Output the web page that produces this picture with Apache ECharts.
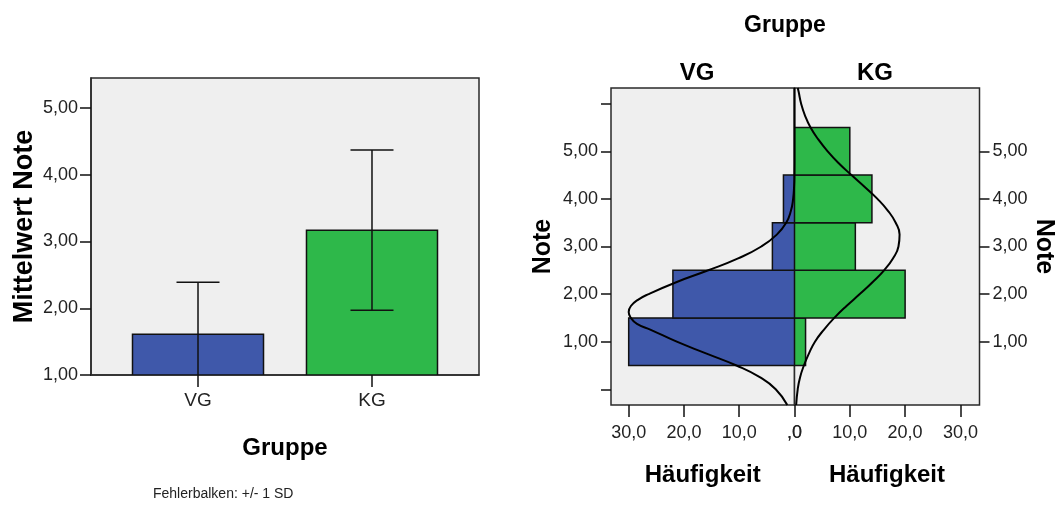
<!DOCTYPE html>
<html>
<head>
<meta charset="utf-8">
<script src="https://cdn.jsdelivr.net/npm/echarts@6/dist/echarts.min.js"></script>
<style>
  html, body { margin: 0; padding: 0; background: #ffffff; }
  #chart { width: 1060px; height: 505px; }
</style>
</head>
<body>
<div id="chart"></div>
<script>
// ---------- Data ----------
const groups = ['VG', 'KG'];
const meanNote = [1.61, 3.17];
const sdNote = [0.78, 1.20];
const meanTicks = [1, 2, 3, 4, 5];

const noteBins = [1, 2, 3, 4, 5];
const vgFreq = [30, 22, 4, 2, 0];
const kgFreq = [2, 20, 11, 14, 10];
const freqTicks = [0, 10, 20, 30];
const noteTicksLeft = [0, 1, 2, 3, 4, 5, 6];
const noteLabels = [1, 2, 3, 4, 5];

// Normal curves (note value, frequency)
const vgCurveNote = [-0.33, 0.0, 0.25, 0.5, 0.75, 1.0, 1.25, 1.375, 1.5, 1.625, 1.75, 1.875, 2.0, 2.25, 2.5, 2.75, 3.0, 3.25, 3.5, 3.75, 4.0, 4.25, 4.5, 5.0, 5.5, 6.0, 6.33];
const vgCurveFreq = [1.3, 3.4, 6.2, 10.5, 15.9, 21.3, 26.0, 28.5, 29.6, 30.0, 29.6, 28.4, 26.4, 21.4, 15.6, 10.2, 6.0, 3.2, 1.5, 0.65, 0.25, 0.08, 0.02, 0, 0, 0, 0];
const kgCurveNote = [-0.33, 0.0, 0.25, 0.5, 0.75, 1.0, 1.25, 1.5, 1.75, 2.0, 2.25, 2.5, 2.75, 3.0, 3.25, 3.5, 3.75, 4.0, 4.25, 4.5, 4.75, 5.0, 5.25, 5.5, 5.75, 6.0, 6.25, 6.33];
const kgCurveFreq = [0.3, 0.58, 1.0, 1.7, 2.6, 3.7, 5.3, 7.2, 9.4, 11.8, 14.1, 16.2, 17.8, 18.8, 19.0, 18.3, 16.9, 15.0, 12.7, 10.3, 8.0, 6.0, 4.3, 2.9, 1.9, 1.2, 0.75, 0.6];

// ---------- Styles ----------
const FONT = '"Liberation Sans", Arial, sans-serif';
const groupColors = ['#3F58AA', '#2EB84A'];
const plotBg = '#EFEFEF';
const frameColor = '#2a2a2a';
const leftXMin = -0.615, leftXMax = 1.615;
const leftYMin = 1, leftYMax = 5.45;
const noteMin = -0.33, noteMax = 6.33;
const vgFreqMax = 33.2, kgFreqMax = 33.45;
const barUnits = 0.753;
const capPx = 43;

const fmt2 = v => v.toFixed(2).replace('.', ',');
const fmtFreq = v => (v === 0 ? ',0' : v.toFixed(1).replace('.', ','));

const chart = echarts.init(document.getElementById('chart'), null, { renderer: 'canvas' });

const tickLabelStyle = { fontFamily: FONT, fontSize: 18, color: '#222' };
const boldName = size => ({ fontFamily: FONT, fontSize: size, fontWeight: 'bold', color: '#000' });
const tickLine = { color: '#111', width: 1.5 };

const option = {
  backgroundColor: '#ffffff',
  animation: false,
  grid: [
    { left: 91, top: 78, width: 388, height: 297, show: true, backgroundColor: plotBg, borderColor: frameColor, borderWidth: 1.5 },
    { left: 611, top: 88, width: 183.5, height: 317, show: true, backgroundColor: plotBg, borderColor: frameColor, borderWidth: 1.5 },
    { left: 794.5, top: 88, width: 185, height: 317, show: true, backgroundColor: plotBg, borderColor: frameColor, borderWidth: 1.5 }
  ],
  xAxis: [
    {
      gridIndex: 0, type: 'value', min: leftXMin, max: leftXMax,
      splitLine: { show: false },
      axisLine: { show: true, onZero: false, lineStyle: { color: frameColor, width: 1.5 } },
      axisTick: { show: true, customValues: [0, 1], length: 12, lineStyle: tickLine },
      axisLabel: Object.assign({ customValues: [0, 1], formatter: v => groups[Math.round(v)], margin: 16 }, tickLabelStyle, { fontSize: 19 }),
      name: 'Gruppe', nameLocation: 'middle', nameGap: 61, nameTextStyle: boldName(24)
    },
    {
      gridIndex: 1, type: 'value', inverse: true, min: 0, max: vgFreqMax,
      axisLine: { show: false, onZero: false },
      splitLine: { show: false },
      axisTick: { show: true, customValues: freqTicks, length: 12, lineStyle: tickLine },
      axisLabel: Object.assign({ customValues: freqTicks, formatter: fmtFreq, margin: 19 }, tickLabelStyle),
      name: 'Häufigkeit', nameLocation: 'middle', nameGap: 58, nameTextStyle: boldName(24)
    },
    {
      gridIndex: 2, type: 'value', min: 0, max: kgFreqMax,
      axisLine: { show: false, onZero: false },
      splitLine: { show: false },
      axisTick: { show: true, customValues: freqTicks, length: 12, lineStyle: tickLine },
      axisLabel: Object.assign({ customValues: freqTicks, formatter: fmtFreq, margin: 19 }, tickLabelStyle),
      name: 'Häufigkeit', nameLocation: 'middle', nameGap: 58, nameTextStyle: boldName(24)
    }
  ],
  yAxis: [
    {
      gridIndex: 0, type: 'value', min: leftYMin, max: leftYMax,
      splitLine: { show: false },
      axisLine: { show: true, onZero: false, lineStyle: { color: frameColor, width: 1.5 } },
      axisTick: { show: true, customValues: meanTicks, length: 11, lineStyle: tickLine },
      axisLabel: Object.assign({ customValues: meanTicks, formatter: fmt2, margin: 13 }, tickLabelStyle),
      name: 'Mittelwert Note', nameLocation: 'middle', nameRotate: 90, nameGap: 53, nameTextStyle: boldName(27)
    },
    {
      gridIndex: 1, type: 'value', position: 'left', min: noteMin, max: noteMax,
      splitLine: { show: false },
      axisLine: { show: false, onZero: false },
      axisTick: { show: true, customValues: noteTicksLeft, length: 10, lineStyle: tickLine },
      axisLabel: Object.assign({ customValues: noteLabels, formatter: fmt2, margin: 13 }, tickLabelStyle),
      name: 'Note', nameLocation: 'middle', nameRotate: 90, nameGap: 55, nameTextStyle: boldName(25)
    },
    {
      gridIndex: 2, type: 'value', position: 'right', min: noteMin, max: noteMax,
      splitLine: { show: false },
      axisLine: { show: false, onZero: false },
      axisTick: { show: true, customValues: noteLabels, length: 10, lineStyle: tickLine },
      axisLabel: Object.assign({ customValues: noteLabels, formatter: fmt2, margin: 13 }, tickLabelStyle),
      name: 'Note', nameLocation: 'middle', nameRotate: -90, nameGap: 52, nameTextStyle: boldName(25)
    }
  ],
  series: [
    // Mean bars
    {
      type: 'custom', xAxisIndex: 0, yAxisIndex: 0, clip: true, z: 2,
      data: groups.map((g, i) => [i, meanNote[i]]),
      renderItem: (params, api) => {
        const i = api.value(0);
        const base = api.coord([i, leftYMin]);
        const top = api.coord([i, api.value(1)]);
        const w = api.size([barUnits, 0])[0];
        return {
          type: 'rect',
          shape: { x: top[0] - w / 2, y: top[1], width: w, height: base[1] - top[1] },
          style: { fill: groupColors[i], stroke: '#111', lineWidth: 1.5 }
        };
      }
    },
    // Error bars (+/- 1 SD)
    {
      type: 'custom', xAxisIndex: 0, yAxisIndex: 0, clip: true, z: 3,
      data: groups.map((g, i) => [i, meanNote[i], sdNote[i]]),
      renderItem: (params, api) => {
        const i = api.value(0), m = api.value(1), s = api.value(2);
        const hi = m + s, lo = m - s;
        const pHi = api.coord([i, hi]);
        const pLo = api.coord([i, Math.max(lo, leftYMin)]);
        const st = { stroke: '#111', lineWidth: 1.5 };
        const children = [
          { type: 'line', shape: { x1: pHi[0], y1: pHi[1], x2: pLo[0], y2: pLo[1] }, style: st },
          { type: 'line', shape: { x1: pHi[0] - capPx / 2, y1: pHi[1], x2: pHi[0] + capPx / 2, y2: pHi[1] }, style: st }
        ];
        if (lo >= leftYMin) {
          children.push({ type: 'line', shape: { x1: pLo[0] - capPx / 2, y1: pLo[1], x2: pLo[0] + capPx / 2, y2: pLo[1] }, style: st });
        }
        return { type: 'group', children };
      }
    },
    // VG histogram
    {
      type: 'custom', xAxisIndex: 1, yAxisIndex: 1, clip: true, z: 2,
      data: noteBins.map((b, i) => [vgFreq[i], b]),
      renderItem: (params, api) => {
        const f = api.value(0), b = api.value(1);
        if (f <= 0) return null;
        const p0 = api.coord([0, b - 0.5]);
        const p1 = api.coord([f, b + 0.5]);
        return {
          type: 'rect',
          shape: { x: Math.min(p0[0], p1[0]), y: Math.min(p0[1], p1[1]), width: Math.abs(p1[0] - p0[0]), height: Math.abs(p1[1] - p0[1]) },
          style: { fill: groupColors[0], stroke: '#111', lineWidth: 1.5 }
        };
      }
    },
    // KG histogram
    {
      type: 'custom', xAxisIndex: 2, yAxisIndex: 2, clip: true, z: 2,
      data: noteBins.map((b, i) => [kgFreq[i], b]),
      renderItem: (params, api) => {
        const f = api.value(0), b = api.value(1);
        if (f <= 0) return null;
        const p0 = api.coord([0, b - 0.5]);
        const p1 = api.coord([f, b + 0.5]);
        return {
          type: 'rect',
          shape: { x: Math.min(p0[0], p1[0]), y: Math.min(p0[1], p1[1]), width: Math.abs(p1[0] - p0[0]), height: Math.abs(p1[1] - p0[1]) },
          style: { fill: groupColors[1], stroke: '#111', lineWidth: 1.5 }
        };
      }
    },
    // Normal curves
    {
      type: 'line', xAxisIndex: 1, yAxisIndex: 1, z: 5, smooth: 0.5,
      showSymbol: false, symbol: 'none', clip: true,
      lineStyle: { color: '#000', width: 2 },
      data: vgCurveNote.map((v, i) => [vgCurveFreq[i], v])
    },
    {
      type: 'line', xAxisIndex: 2, yAxisIndex: 2, z: 5, smooth: 0.5,
      showSymbol: false, symbol: 'none', clip: true,
      lineStyle: { color: '#000', width: 2 },
      data: kgCurveNote.map((v, i) => [kgCurveFreq[i], v])
    }
  ],
  graphic: [
    { type: 'text', style: { text: 'Gruppe', x: 785, y: 26, textAlign: 'center', textVerticalAlign: 'middle', font: 'bold 23px ' + FONT, fill: '#000' } },
    { type: 'text', style: { text: 'VG', x: 697, y: 73, textAlign: 'center', textVerticalAlign: 'middle', font: 'bold 24px ' + FONT, fill: '#000' } },
    { type: 'text', style: { text: 'KG', x: 875, y: 73, textAlign: 'center', textVerticalAlign: 'middle', font: 'bold 24px ' + FONT, fill: '#000' } },
    { type: 'text', style: { text: 'Fehlerbalken: +/- 1 SD', x: 153, y: 494, textAlign: 'left', textVerticalAlign: 'middle', font: '14px ' + FONT, fill: '#222' } }
  ]
};

chart.setOption(option);
</script>
</body>
</html>
